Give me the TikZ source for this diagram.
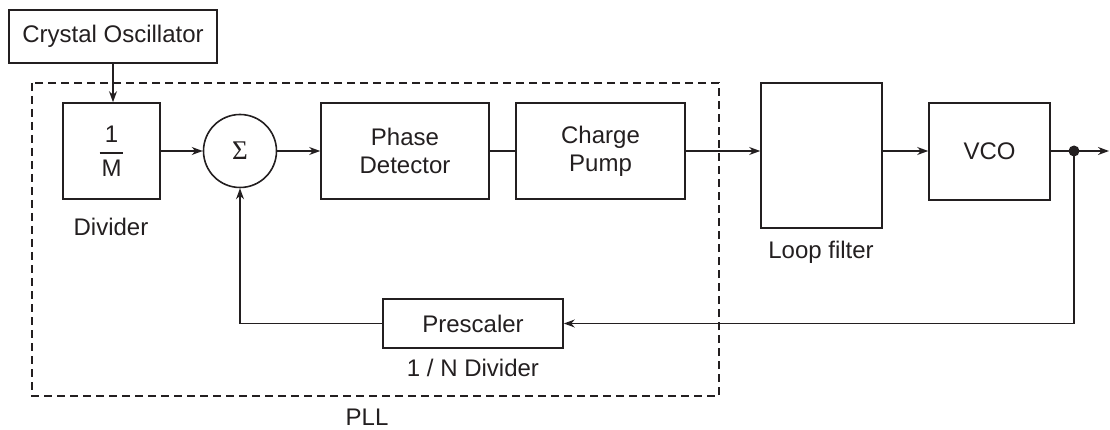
\documentclass[tikz,border=0pt]{standalone}
\usepackage{amsmath}
\usepackage{fontspec}
\setmainfont{Liberation Sans}
\newfontfamily\symfont{Liberation Serif}
\usetikzlibrary{arrows.meta,calc}
\definecolor{ink}{HTML}{231F20}
\tikzset{
  blk/.style={draw=ink, line width=1.6pt, rectangle, inner sep=0pt, text=ink},
  wire/.style={draw=ink, line width=1.3pt},
  arr/.style={wire, -{Stealth[length=11pt,width=8pt]}},
  lbl/.style={text=ink, inner sep=0pt},
  pllbox/.style={draw=ink, line width=1.1pt, dash pattern=on 8pt off 5pt}
}
\begin{document}
\begin{tikzpicture}[x=1pt, y=-1pt, font=\fontsize{24}{28}\selectfont]
  \useasboundingbox (0,0) rectangle (1110,430);

  % PLL boundary
  \draw[pllbox] (32,83) rectangle (719,396);

  % blocks
  \node[blk, minimum width=208pt, minimum height=53pt] (osc) at (113,36.5) {Crystal Oscillator};
  \node[blk, minimum width=97pt, minimum height=96pt] (div) at (111.5,151)
    {$\genfrac{}{}{1.6pt}{0}{\mbox{1}}{\mbox{\hspace{2pt}M\hspace{2pt}}}$};
  \node[blk, circle, minimum size=73pt] (sum) at (240,151) {\symfont\fontsize{27}{30}\selectfont Σ};
  \node[blk, minimum width=168pt, minimum height=96pt, align=center] (pd) at (405,151) {Phase\\Detector};
  \node[blk, minimum width=169pt, minimum height=96pt, align=center] (cp) at (600.5,151) {Charge\\Pump};
  \node[blk, minimum width=121pt, minimum height=145pt] (lf) at (821.5,155.5) {};
  \node[blk, minimum width=121pt, minimum height=97pt] (vco) at (989.5,151.5) {VCO};
  \node[blk, minimum width=180pt, minimum height=49pt] (pre) at (473,323.5) {Prescaler};

  % labels
  \node[lbl] (divl) at (111,227) {Divider};
  \node[lbl] (lfl) at (821,252) {Loop filter};
  \node[lbl] (prel) at (473,368) {1 / N Divider};
  \node[lbl] (plll) at (367,417) {PLL};

  % tap point and output
  \fill[ink] (1074,151) circle (5.5pt);
  \coordinate (tap) at (1074,151);
  \coordinate (out) at (1109,151);

  % forward path
  \draw[arr] (osc.south) -- (osc.south |- div.north);
  \draw[arr] (div.east) -- (sum.west);
  \draw[arr] (sum.east) -- (pd.west);
  \draw[wire] (pd.east) -- (cp.east -| cp.west);
  \draw[arr] (cp.east) -- (cp.east -| lf.west);
  \draw[arr] (cp.east -| lf.east) -- (cp.east -| vco.west);
  \draw[wire] (vco.east |- tap) -- (tap);
  \draw[arr] (tap) -- (out);

  % feedback path
  \draw[arr] (tap) -- (tap |- pre.east) -- (pre.east);
  \draw[arr] (pre.west) -- (sum |- pre.west) -- (sum.south);
\end{tikzpicture}
\end{document}
